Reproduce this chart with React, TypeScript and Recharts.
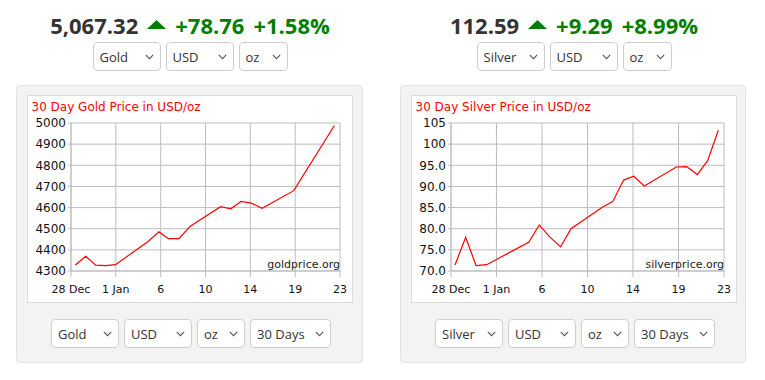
import React from 'react';
import { LineChart, Line, XAxis, YAxis, CartesianGrid } from 'recharts';

// x axis: days since 28 Dec, six equal steps
const dayTicks = [0, 4.33, 8.67, 13, 17.33, 21.67, 26];
const dayTickLabels = ['28 Dec', '1 Jan', '6', '10', '14', '19', '23'];

const goldDays = [0.42, 1.42, 2.39, 3.37, 4.3, 7.42, 8.5, 9.42, 10.44, 11.49, 14.46, 15.45, 16.43, 17.41, 18.48, 21.53, 25.46];
const goldPrices = [4328, 4369, 4328, 4325, 4330, 4438, 4485, 4453, 4453, 4511, 4604, 4594, 4629, 4621, 4597, 4680, 4988];

const silverDays = [0.38, 1.4, 2.38, 3.4, 7.4, 8.41, 9.43, 10.44, 11.43, 14.41, 15.4, 16.44, 17.4, 18.41, 21.46, 22.44, 23.46, 24.44, 25.46];
const silverPrices = [71.4, 78.0, 71.3, 71.5, 76.8, 80.9, 78.0, 75.7, 80.0, 85.1, 86.4, 91.5, 92.4, 90.1, 94.6, 94.7, 92.8, 96.1, 103.3];

const goldTicks = [4300, 4400, 4500, 4600, 4700, 4800, 4900, 5000];
const silverTicks = [70, 75, 80, 85, 90, 95, 100, 105];

const metals = ['Gold', 'Silver'];
const currencies = ['USD', 'USD'];
const units = ['oz', 'oz'];
const spans = ['30 Days', '30 Days'];
const spotPrices = ['5,067.32', '112.59'];
const spotChanges = ['+78.76', '+9.29'];
const spotPercents = ['+1.58%', '+8.99%'];
const sites = ['goldprice.org', 'silverprice.org'];

const chartFont = "'DejaVu Sans', sans-serif";
const uiFont = "'Open Sans', sans-serif";

const dayLabel = (v: number) => {
  const i = dayTicks.findIndex(t => Math.abs(t - v) < 0.01);
  return i >= 0 ? dayTickLabels[i] : '';
};

const Chevron = () => (
  <svg width="9" height="6" style={{ display: 'block' }}>
    <polyline points="0.8,0.8 4.5,4.6 8.2,0.8" fill="none" stroke="#555" strokeWidth="1.1" />
  </svg>
);

const Select = ({ label, width }: { label: string; width: number }) => (
  <div style={{
    width,
    height: 29,
    boxSizing: 'border-box',
    border: '1px solid #cfcfcf',
    borderRadius: 4,
    background: '#fff',
    display: 'flex',
    alignItems: 'center',
    justifyContent: 'space-between',
    padding: '0 6px 0 6px',
    fontFamily: uiFont,
    fontSize: 13,
    color: '#333'
  }}>
    <span>{label}</span>
    <Chevron />
  </div>
);

const SelectRow = ({ center, top, items }: { center: number; top: number; items: [string, number][] }) => (
  <div style={{
    position: 'absolute',
    left: center - 200,
    width: 400,
    top,
    display: 'flex',
    justifyContent: 'center',
    gap: 5
  }}>
    {items.map(([label, w], i) => <Select key={i} label={label} width={w} />)}
  </div>
);

const Header = ({ center, idx }: { center: number; idx: number }) => (
  <div style={{
    position: 'absolute',
    left: center - 200,
    width: 400,
    top: 10,
    height: 30,
    display: 'flex',
    justifyContent: 'center',
    alignItems: 'center',
    gap: 9,
    fontFamily: uiFont,
    fontWeight: 700,
    fontSize: 22,
    lineHeight: '30px'
  }}>
    <span style={{ color: '#333' }}>{spotPrices[idx]}</span>
    <svg width="19" height="9" style={{ display: 'block', position: 'relative', top: -1 }}>
      <polygon points="9.5,0 19,9 0,9" fill="#008000" />
    </svg>
    <span style={{ color: '#008000' }}>{spotChanges[idx]}</span>
    <span style={{ color: '#008000' }}>{spotPercents[idx]}</span>
  </div>
);

interface PriceChartProps {
  left: number;
  title: string;
  site: string;
  days: number[];
  prices: number[];
  yTicks: number[];
  yWidth: number;
  yFormat: (v: number) => string;
}

const PriceChart: React.FC<PriceChartProps> = ({ left, title, site, days, prices, yTicks, yWidth, yFormat }) => {
  const data = days.map((d, i) => ({ day: d, price: prices[i] }));
  return (
    <div style={{
      position: 'absolute',
      left,
      top: 95,
      width: 326,
      height: 208,
      boxSizing: 'border-box',
      background: '#fff',
      border: '1px solid #dcdcdc'
    }}>
      <LineChart width={324} height={206} data={data} margin={{ top: 27, right: 12, left: 0, bottom: 0 }}>
        <CartesianGrid stroke="#bdbdbd" />
        <XAxis
          dataKey="day"
          type="number"
          domain={[0, 26]}
          ticks={dayTicks}
          interval={0}
          tickFormatter={dayLabel}
          height={31}
          tickSize={6}
          tickMargin={8}
          stroke="#bdbdbd"
          tick={{ fill: '#111', fontSize: 11, fontFamily: chartFont }}
        />
        <YAxis
          type="number"
          domain={[yTicks[0], yTicks[yTicks.length - 1]]}
          ticks={yTicks}
          interval={0}
          tickFormatter={yFormat}
          width={yWidth}
          tickSize={3}
          tickMargin={2}
          stroke="#bdbdbd"
          tick={{ fill: '#111', fontSize: 12, fontFamily: chartFont }}
        />
        <Line
          type="linear"
          dataKey="price"
          stroke="#ff0000"
          strokeWidth={1.2}
          dot={false}
          isAnimationActive={false}
        />
      </LineChart>
      <span style={{
        position: 'absolute', left: 3.5, top: 5, fontFamily: chartFont, fontSize: 12,
        lineHeight: '12px', color: '#ff0000', whiteSpace: 'nowrap'
      }}>{title}</span>
      <span style={{
        position: 'absolute', right: 12, top: 163, fontFamily: chartFont, fontSize: 11,
        lineHeight: '11px', color: '#222', whiteSpace: 'nowrap'
      }}>{site}</span>
    </div>
  );
};

const Panel = ({ left, width }: { left: number; width: number }) => (
  <div style={{
    position: 'absolute',
    left,
    top: 85,
    width,
    height: 278,
    boxSizing: 'border-box',
    background: '#f3f3f3',
    border: '1px solid #e4e4e4',
    borderRadius: 4
  }} />
);

export default function App() {
  const centers = [190, 574];
  return (
    <div style={{ position: 'absolute', left: 0, top: 0, width: 765, height: 380, background: '#fff', overflow: 'hidden' }}>
      {centers.map((c, i) => <Header key={'h' + i} center={c} idx={i} />)}
      {centers.map((c, i) => (
        <SelectRow key={'s' + i} center={c} top={42}
          items={[[metals[i], 68], [currencies[i], 68], [units[i], 49]]} />
      ))}
      <Panel left={16} width={347} />
      <Panel left={400} width={346} />
      <PriceChart
        left={27}
        title={`30 Day ${metals[0]} Price in ${currencies[0]}/${units[0]}`}
        site={sites[0]}
        days={goldDays}
        prices={goldPrices}
        yTicks={goldTicks}
        yWidth={43}
        yFormat={v => String(v)}
      />
      <PriceChart
        left={411}
        title={`30 Day ${metals[1]} Price in ${currencies[1]}/${units[1]}`}
        site={sites[1]}
        days={silverDays}
        prices={silverPrices}
        yTicks={silverTicks}
        yWidth={39}
        yFormat={v => (v >= 100 ? String(v) : v.toFixed(1))}
      />
      {centers.map((c, i) => (
        <SelectRow key={'b' + i} center={c + 1} top={319}
          items={[[metals[i], 68], [currencies[i], 68], [units[i], 48], [spans[i], 81]]} />
      ))}
    </div>
  );
}
